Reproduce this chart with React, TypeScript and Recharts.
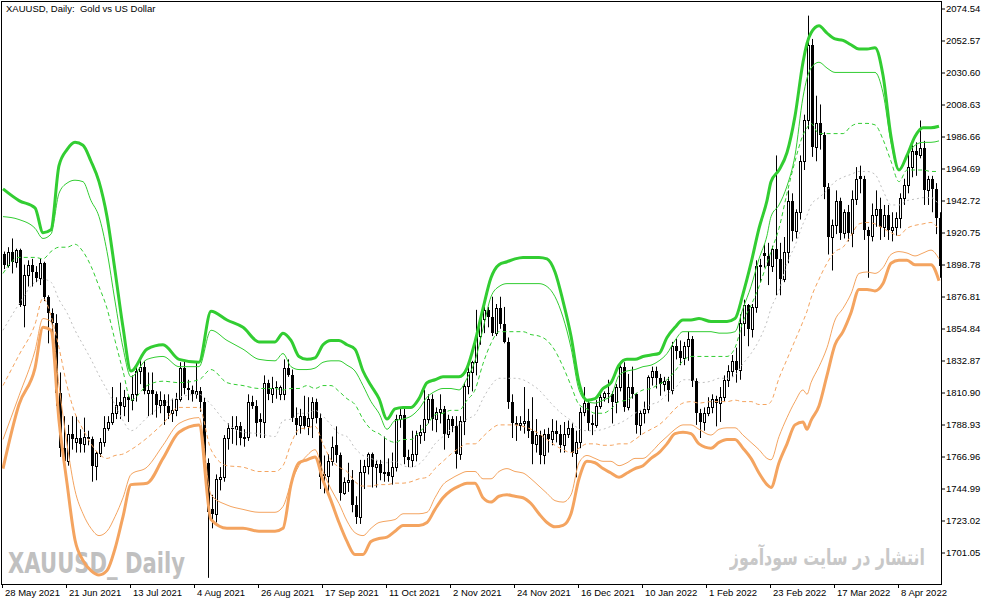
import React from 'react';
import { ComposedChart, Bar, Line, XAxis, YAxis } from 'recharts';

// XAUUSD daily, 28 May 2021 .. 25 Apr 2022 (one entry per trading day)
const xTickBars = [0, 16, 32, 48, 64, 80, 96, 112, 128, 144, 160, 176, 192, 208, 224];
const xTickLabels = [
  '28 May 2021', '21 Jun 2021', '13 Jul 2021', '4 Aug 2021', '26 Aug 2021', '17 Sep 2021',
  '11 Oct 2021', '2 Nov 2021', '24 Nov 2021', '16 Dec 2021', '10 Jan 2022', '1 Feb 2022',
  '23 Feb 2022', '17 Mar 2022', '8 Apr 2022',
];
const yTicks = [
  2074.54, 2052.57, 2030.6, 2008.63, 1986.66, 1964.69, 1942.72, 1920.75, 1898.78,
  1876.81, 1854.84, 1832.87, 1810.9, 1788.93, 1766.96, 1744.99, 1723.02, 1701.05,
];

const opens = [
  1906, 1899, 1908, 1901, 1909, 1871, 1892, 1899, 1894, 1890,
  1900, 1877, 1866, 1859, 1811, 1773, 1764, 1783, 1777, 1780,
  1776, 1781, 1779, 1761, 1770, 1777, 1787, 1791, 1797, 1805,
  1802, 1808, 1806, 1810, 1826, 1829, 1811, 1813, 1810, 1803,
  1806, 1802, 1797, 1799, 1807, 1828, 1814, 1813, 1810, 1812,
  1805, 1763, 1731, 1728, 1752, 1753, 1780, 1787, 1786, 1788,
  1780, 1781, 1805, 1802, 1793, 1791, 1818, 1810, 1815, 1810,
  1810, 1828, 1823, 1794, 1789, 1795, 1788, 1794, 1805, 1794,
  1755, 1754, 1764, 1775, 1768, 1742, 1750, 1751, 1734, 1726,
  1757, 1761, 1769, 1760, 1762, 1756, 1757, 1754, 1760, 1793,
  1796, 1767, 1765, 1769, 1782, 1784, 1793, 1807, 1793, 1798,
  1800, 1783, 1793, 1788, 1769, 1792, 1816, 1825, 1832, 1850,
  1862, 1868, 1863, 1852, 1869, 1858, 1846, 1805, 1790, 1789,
  1790, 1792, 1785, 1776, 1782, 1768, 1783, 1779, 1785, 1783,
  1775, 1783, 1787, 1770, 1777, 1798, 1804, 1790, 1789, 1802,
  1808, 1811, 1810, 1805, 1815, 1829, 1801, 1815, 1810, 1789,
  1797, 1800, 1822, 1826, 1821, 1817, 1819, 1813, 1843, 1840,
  1835, 1843, 1848, 1819, 1797, 1791, 1797, 1801, 1807, 1804,
  1808, 1820, 1826, 1833, 1827, 1859, 1871, 1855, 1870, 1898,
  1907, 1905, 1898, 1910, 1903, 1889, 1908, 1943, 1922, 1935,
  1970, 1998, 2050, 1980, 1996, 1988, 1952, 1918, 1926, 1943,
  1921, 1935, 1921, 1944, 1960, 1958, 1923, 1919, 1933, 1937,
  1925, 1933, 1923, 1925, 1931, 1945, 1954, 1966, 1977, 1974,
  1979, 1950, 1958, 1951, 1931,
];
const highs = [
  1908, 1911, 1917, 1910, 1910, 1899, 1902, 1903, 1898, 1903,
  1901, 1878, 1869, 1865, 1825, 1795, 1789, 1795, 1795, 1786,
  1794, 1785, 1781, 1771, 1780, 1795, 1795, 1815, 1808, 1818,
  1813, 1809, 1823, 1830, 1834, 1833, 1825, 1825, 1812, 1812,
  1810, 1810, 1807, 1811, 1832, 1833, 1820, 1816, 1832, 1815,
  1808, 1766, 1741, 1755, 1760, 1782, 1790, 1795, 1795, 1791,
  1786, 1810, 1809, 1806, 1797, 1823, 1820, 1822, 1819, 1816,
  1834, 1834, 1827, 1801, 1800, 1809, 1808, 1808, 1807, 1797,
  1768, 1769, 1781, 1788, 1770, 1753, 1763, 1758, 1740, 1765,
  1765, 1770, 1770, 1765, 1765, 1781, 1766, 1770, 1796, 1800,
  1801, 1772, 1785, 1785, 1789, 1813, 1810, 1810, 1801, 1810,
  1802, 1796, 1795, 1795, 1795, 1818, 1830, 1833, 1868, 1865,
  1870, 1870, 1877, 1872, 1877, 1870, 1849, 1810, 1795, 1795,
  1815, 1800, 1808, 1793, 1785, 1786, 1787, 1793, 1792, 1789,
  1791, 1792, 1790, 1785, 1801, 1815, 1806, 1796, 1806, 1812,
  1812, 1820, 1812, 1817, 1830, 1832, 1824, 1829, 1811, 1799,
  1805, 1823, 1829, 1829, 1824, 1822, 1822, 1846, 1848, 1847,
  1846, 1853, 1850, 1821, 1800, 1801, 1808, 1810, 1809, 1815,
  1823, 1830, 1837, 1842, 1865, 1875, 1872, 1872, 1902, 1903,
  1913, 1914, 1912, 1974, 1914, 1918, 1950, 1948, 1937, 1974,
  2002, 2070, 2054, 2015, 2009, 1990, 1955, 1930, 1950, 1945,
  1937, 1940, 1950, 1966, 1967, 1960, 1925, 1941, 1950, 1945,
  1940, 1940, 1935, 1935, 1948, 1958, 1978, 1981, 1983, 1998,
  1984, 1960, 1960, 1955, 1935,
];
const lows = [
  1896, 1897, 1893, 1897, 1870, 1856, 1884, 1884, 1887, 1885,
  1874, 1845, 1850, 1802, 1767, 1761, 1761, 1772, 1770, 1770,
  1770, 1775, 1750, 1751, 1767, 1774, 1785, 1789, 1793, 1793,
  1795, 1791, 1799, 1805, 1817, 1810, 1795, 1796, 1794, 1797,
  1789, 1793, 1791, 1795, 1805, 1810, 1806, 1805, 1807, 1798,
  1760, 1684, 1718, 1722, 1744, 1750, 1772, 1776, 1775, 1775,
  1774, 1778, 1800, 1781, 1780, 1780, 1806, 1804, 1807, 1806,
  1806, 1822, 1791, 1782, 1783, 1786, 1782, 1780, 1790, 1745,
  1742, 1742, 1761, 1763, 1737, 1741, 1743, 1729, 1721, 1721,
  1745, 1755, 1746, 1746, 1751, 1750, 1750, 1748, 1757, 1787,
  1762, 1760, 1760, 1764, 1776, 1778, 1790, 1785, 1784, 1790,
  1772, 1780, 1784, 1759, 1765, 1782, 1810, 1812, 1823, 1844,
  1852, 1856, 1850, 1850, 1855, 1845, 1800, 1780, 1778, 1785,
  1783, 1780, 1762, 1770, 1762, 1762, 1770, 1775, 1777, 1770,
  1770, 1780, 1767, 1753, 1773, 1795, 1785, 1782, 1787, 1800,
  1805, 1804, 1790, 1797, 1812, 1798, 1799, 1807, 1783, 1782,
  1790, 1797, 1816, 1814, 1809, 1812, 1805, 1810, 1834, 1830,
  1830, 1833, 1815, 1789, 1780, 1785, 1795, 1797, 1788, 1791,
  1805, 1815, 1822, 1818, 1820, 1850, 1843, 1849, 1866, 1887,
  1897, 1885, 1894, 1878, 1878, 1887, 1900, 1915, 1917, 1930,
  1964, 1992, 1973, 1970, 1978, 1944, 1906, 1895, 1920, 1916,
  1917, 1915, 1911, 1940, 1948, 1916, 1890, 1915, 1925, 1916,
  1918, 1916, 1915, 1919, 1924, 1940, 1948, 1959, 1960, 1972,
  1940, 1940, 1935, 1920, 1890,
];
const closes = [
  1899, 1908, 1901, 1909, 1871, 1892, 1899, 1894, 1890, 1900,
  1877, 1866, 1859, 1811, 1773, 1764, 1783, 1779, 1780, 1776,
  1781, 1779, 1761, 1770, 1777, 1787, 1791, 1797, 1803, 1802,
  1808, 1806, 1810, 1826, 1829, 1812, 1813, 1810, 1803, 1806,
  1802, 1797, 1799, 1807, 1828, 1814, 1813, 1810, 1812, 1805,
  1763, 1729, 1728, 1752, 1753, 1780, 1787, 1786, 1788, 1780,
  1781, 1805, 1802, 1790, 1791, 1818, 1810, 1814, 1814, 1815,
  1828, 1823, 1794, 1789, 1795, 1788, 1794, 1805, 1794, 1753,
  1754, 1764, 1774, 1768, 1742, 1750, 1751, 1734, 1726, 1757,
  1761, 1769, 1760, 1762, 1756, 1757, 1754, 1760, 1793, 1796,
  1767, 1765, 1769, 1782, 1784, 1793, 1807, 1793, 1798, 1800,
  1783, 1793, 1788, 1769, 1792, 1816, 1825, 1832, 1850, 1862,
  1868, 1863, 1852, 1869, 1858, 1846, 1805, 1790, 1789, 1790,
  1792, 1785, 1776, 1782, 1768, 1783, 1779, 1785, 1783, 1775,
  1783, 1787, 1770, 1777, 1798, 1804, 1790, 1789, 1802, 1808,
  1811, 1810, 1805, 1815, 1829, 1801, 1815, 1810, 1789, 1797,
  1800, 1822, 1826, 1821, 1817, 1819, 1813, 1843, 1840, 1835,
  1843, 1848, 1819, 1797, 1791, 1797, 1801, 1807, 1804, 1808,
  1820, 1826, 1833, 1827, 1859, 1871, 1855, 1870, 1898, 1899,
  1905, 1898, 1910, 1903, 1889, 1908, 1943, 1922, 1935, 1970,
  1998, 2050, 1980, 1996, 1988, 1952, 1918, 1926, 1943, 1921,
  1935, 1921, 1944, 1958, 1958, 1923, 1919, 1933, 1937, 1925,
  1933, 1923, 1925, 1931, 1945, 1954, 1966, 1977, 1974, 1979,
  1950, 1958, 1951, 1931, 1898,
];

// envelope readings, taken at these bars only
const bandBars = [
  0, 4, 8, 10, 12, 14, 16, 18, 20, 22,
  24, 26, 28, 30, 32, 36, 40, 44, 49, 52,
  56, 60, 64, 68, 70, 72, 74, 76, 78, 80,
  82, 84, 86, 88, 90, 92, 94, 96, 98, 100,
  102, 104, 106, 108, 110, 112, 114, 116, 118, 120,
  122, 124, 126, 128, 130, 132, 134, 136, 138, 140,
  142, 144, 146, 148, 150, 152, 154, 156, 158, 160,
  162, 164, 166, 168, 170, 172, 174, 177, 179, 181,
  183, 185, 187, 189, 191, 192, 194, 196, 198, 200,
  201, 202, 204, 206, 208, 210, 212, 214, 216, 218,
  220, 222, 224, 226, 228, 230, 232, 234,
];
const upper3 = [
  1951, 1943, 1938, 1921, 1923, 1967, 1978, 1983, 1981, 1970,
  1956, 1932, 1895, 1856, 1826, 1841, 1844, 1834, 1832, 1867,
  1861, 1856, 1846, 1846, 1852, 1847, 1836, 1834, 1835, 1844,
  1847, 1847, 1844, 1841, 1826, 1816, 1807, 1793, 1800, 1801,
  1801, 1807, 1818, 1820, 1822, 1822, 1822, 1828, 1846, 1869,
  1890, 1899, 1901, 1903, 1904, 1904, 1904, 1903, 1894, 1874,
  1850, 1818, 1806, 1807, 1814, 1818, 1830, 1834, 1834, 1836,
  1837, 1838, 1849, 1856, 1861, 1861, 1862, 1860, 1860, 1860,
  1862, 1879, 1900, 1924, 1943, 1956, 1964, 1976, 2001, 2038,
  2051, 2058, 2063, 2058, 2054, 2053, 2050, 2047, 2047, 2048,
  2029, 1987, 1964, 1974, 1987, 1993, 1993, 1994,
];
const upper2 = [
  1932, 1930, 1924, 1917, 1920, 1948, 1955, 1957, 1956, 1943,
  1932, 1908, 1874, 1842, 1822, 1834, 1836, 1829, 1829, 1854,
  1847, 1841, 1834, 1833, 1838, 1829, 1827, 1827, 1828, 1832,
  1833, 1833, 1830, 1826, 1816, 1805, 1797, 1786, 1792, 1793,
  1795, 1800, 1808, 1812, 1814, 1814, 1813, 1821, 1833, 1855,
  1877, 1884, 1886, 1886, 1886, 1886, 1886, 1884, 1877, 1863,
  1842, 1813, 1805, 1804, 1806, 1809, 1823, 1826, 1827, 1829,
  1830, 1833, 1838, 1847, 1853, 1853, 1853, 1853, 1852, 1852,
  1853, 1869, 1884, 1903, 1919, 1932, 1940, 1953, 1974, 2014,
  2027, 2034, 2038, 2034, 2031, 2031, 2031, 2031, 2031, 2031,
  2017, 1983, 1964, 1974, 1981, 1983, 1983, 1984,
];
const upper1 = [
  1893, 1904, 1904, 1903, 1908, 1911, 1911, 1913, 1908, 1898,
  1884, 1869, 1847, 1826, 1806, 1816, 1819, 1818, 1820, 1827,
  1818, 1816, 1814, 1814, 1813, 1814, 1814, 1816, 1814, 1816,
  1816, 1812, 1807, 1803, 1793, 1786, 1783, 1779, 1777, 1779,
  1779, 1784, 1789, 1796, 1797, 1799, 1799, 1806, 1813, 1831,
  1845, 1853, 1853, 1853, 1853, 1851, 1850, 1847, 1840, 1829,
  1816, 1803, 1800, 1797, 1797, 1800, 1805, 1806, 1810, 1813,
  1814, 1817, 1820, 1826, 1833, 1836, 1836, 1836, 1836, 1836,
  1842, 1860, 1871, 1884, 1900, 1908, 1924, 1948, 1970, 1988,
  1993, 1996, 1989, 1989, 1989, 1989, 1994, 1996, 1996, 1995,
  1985, 1970, 1956, 1964, 1964, 1964, 1963, 1963,
];
const middle = [
  1854, 1872, 1887, 1889, 1887, 1875, 1866, 1854, 1844, 1834,
  1823, 1813, 1803, 1792, 1785, 1794, 1803, 1808, 1810, 1803,
  1790, 1784, 1783, 1781, 1792, 1793, 1797, 1797, 1799, 1795,
  1789, 1783, 1781, 1773, 1768, 1766, 1764, 1763, 1764, 1761,
  1760, 1762, 1768, 1776, 1781, 1786, 1789, 1793, 1796, 1807,
  1816, 1821, 1821, 1821, 1820, 1817, 1813, 1807, 1801, 1796,
  1792, 1786, 1785, 1785, 1786, 1788, 1790, 1793, 1797, 1800,
  1803, 1805, 1810, 1814, 1820, 1820, 1818, 1819, 1821, 1821,
  1823, 1831, 1838, 1847, 1860, 1869, 1881, 1900, 1912, 1927,
  1933, 1940, 1945, 1950, 1956, 1959, 1961, 1963, 1963, 1961,
  1950, 1940, 1940, 1943, 1944, 1945, 1945, 1940,
];
const lower1 = [
  1816, 1837, 1858, 1876, 1864, 1842, 1816, 1797, 1786, 1776,
  1769, 1766, 1768, 1769, 1772, 1780, 1790, 1801, 1801, 1772,
  1761, 1760, 1757, 1757, 1761, 1776, 1786, 1787, 1788, 1776,
  1765, 1760, 1757, 1750, 1747, 1747, 1748, 1748, 1749, 1749,
  1750, 1752, 1753, 1759, 1764, 1769, 1773, 1776, 1776, 1781,
  1786, 1789, 1789, 1789, 1788, 1786, 1783, 1779, 1775, 1772,
  1770, 1773, 1776, 1776, 1775, 1775, 1776, 1776, 1779, 1783,
  1786, 1789, 1794, 1800, 1804, 1805, 1804, 1805, 1805, 1805,
  1806, 1805, 1805, 1803, 1803, 1805, 1821, 1834, 1847, 1860,
  1867, 1876, 1889, 1900, 1908, 1911, 1919, 1927, 1928, 1927,
  1924, 1921, 1919, 1924, 1926, 1927, 1928, 1923,
];
const lower2 = [
  1779, 1809, 1840, 1862, 1860, 1816, 1776, 1744, 1728, 1718,
  1713, 1716, 1726, 1739, 1755, 1760, 1775, 1790, 1794, 1741,
  1734, 1731, 1729, 1729, 1733, 1749, 1761, 1768, 1772, 1757,
  1745, 1735, 1723, 1715, 1713, 1718, 1722, 1723, 1724, 1728,
  1728, 1728, 1729, 1739, 1748, 1752, 1755, 1757, 1757, 1752,
  1752, 1757, 1759, 1757, 1756, 1752, 1747, 1742, 1737, 1736,
  1741, 1763, 1768, 1766, 1764, 1764, 1761, 1763, 1766, 1766,
  1770, 1776, 1781, 1786, 1789, 1789, 1786, 1782, 1786, 1787,
  1787, 1782, 1777, 1772, 1766, 1765, 1781, 1794, 1805, 1813,
  1810, 1818, 1829, 1842, 1861, 1869, 1879, 1893, 1894, 1893,
  1897, 1906, 1908, 1907, 1905, 1907, 1909, 1903,
];
const lower3 = [
  1759, 1803, 1828, 1856, 1854, 1792, 1749, 1710, 1696, 1689,
  1686, 1689, 1704, 1726, 1748, 1749, 1766, 1784, 1789, 1724,
  1718, 1718, 1716, 1716, 1718, 1748, 1763, 1765, 1767, 1751,
  1737, 1722, 1709, 1700, 1700, 1709, 1711, 1712, 1716, 1720,
  1720, 1720, 1722, 1731, 1739, 1744, 1747, 1749, 1749, 1739,
  1736, 1740, 1741, 1740, 1739, 1735, 1728, 1722, 1719, 1720,
  1728, 1752, 1764, 1763, 1759, 1756, 1753, 1756, 1759, 1761,
  1766, 1770, 1776, 1783, 1784, 1783, 1776, 1773, 1777, 1779,
  1779, 1773, 1766, 1756, 1748, 1746, 1763, 1776, 1789, 1791,
  1786, 1792, 1802, 1823, 1844, 1853, 1866, 1882, 1882, 1881,
  1886, 1900, 1902, 1902, 1899, 1899, 1899, 1888,
];

const rows: any[] = closes.map((c, i) => ({ i, o: opens[i], h: highs[i], l: lows[i], c }));
bandBars.forEach((b, k) => {
  Object.assign(rows[b], {
    u3: upper3[k], u2: upper2[k], u1: upper1[k], m: middle[k],
    d1: lower1[k], d2: lower2[k], d3: lower3[k],
  });
});

const FONT = "'Liberation Sans', Arial, sans-serif";
const GREEN = '#32cd32';
const ORANGE = '#f4a460';

const Candle = (props: any) => {
  const { x, y, width, height, payload } = props;
  if (!payload || height == null) return null;
  const { o, h, l, c } = payload;
  const top = Math.min(y, y + height);
  const span = Math.abs(height);
  const k = h === l ? 0 : span / (h - l);
  const yO = top + (h - o) * k;
  const yC = top + (h - c) * k;
  const p = Math.round(x + width / 2);
  const bTop = Math.round(Math.min(yO, yC));
  const bBot = Math.round(Math.max(yO, yC));
  return (
    <g>
      <line x1={p + 0.5} x2={p + 0.5} y1={top} y2={top + span} stroke="#000" strokeWidth={1} />
      {c >= o ? (
        <rect x={p - 0.5} y={bTop + 0.5} width={2} height={Math.max(bBot - bTop, 0)}
          fill="#fff" stroke="#000" strokeWidth={1} />
      ) : (
        <rect x={p - 1} y={bTop} width={3} height={Math.max(bBot - bTop, 1)} fill="#000" />
      )}
    </g>
  );
};

const XTick = (props: any) => {
  const { x, y, payload } = props;
  const idx = xTickBars.indexOf(payload.value);
  return (
    <g>
      <line x1={x - 0.5} x2={x - 0.5} y1={y - 4} y2={y} stroke="#000" />
      <text x={x + 2} y={y + 8} fontSize={9.5} fontFamily={FONT} fill="#000">
        {xTickLabels[idx]}
      </text>
    </g>
  );
};

export default function App() {
  return (
    <div style={{ position: 'absolute', left: 0, top: 0, width: 994, height: 605, background: '#fff', overflow: 'hidden' }}>
      <svg width={994} height={605} style={{ position: 'absolute', left: 0, top: 0 }}>
        <text x={8} y={573} fontFamily="'DejaVu Sans', sans-serif" fontWeight="bold" fontSize={29}
          textLength={177} lengthAdjust="spacingAndGlyphs" fill="#c0c0c0">XAUUSD_ Daily</text>
      </svg>
      <div dir="rtl" style={{
        position: 'absolute', right: 69, top: 545, fontFamily: "'DejaVu Sans', sans-serif",
        fontSize: 22, fontWeight: 'bold', color: '#c8c8c8', whiteSpace: 'nowrap',
        transform: 'scaleX(0.72)', transformOrigin: 'right center',
      }}>انتشار در سایت سودآموز</div>
      <div style={{ position: 'absolute', left: 0, top: 0 }}>
        <ComposedChart width={994} height={605} data={rows}
          margin={{ top: 2, right: 0, bottom: 0, left: 1 }}>
          <XAxis dataKey="i" type="category" ticks={xTickBars} interval={0} height={21}
            axisLine={false} tickLine={false} tickSize={4} tickMargin={0} tick={<XTick />} />
          <YAxis orientation="right" width={53} domain={[1679.77, 2079.35]} allowDataOverflow
            ticks={yTicks} interval={0} axisLine={false} tickSize={4} tickMargin={1}
            tickLine={{ stroke: '#000' }}
            tick={{ fill: '#000', fontSize: 9.5, fontFamily: FONT }}
            tickFormatter={(v: number) => v.toFixed(2)} />
          <Bar dataKey={(d: any) => [d.l, d.h]} barSize={3} shape={(p: any) => <Candle {...p} />}
            isAnimationActive={false} />
          <Line dataKey="m" stroke="#c0c0c0" strokeDasharray="2 3" strokeWidth={1} dot={false}
            connectNulls type="monotone" isAnimationActive={false} />
          <Line dataKey="u1" stroke={GREEN} strokeDasharray="4 3" strokeWidth={1} dot={false}
            connectNulls type="monotone" isAnimationActive={false} />
          <Line dataKey="d1" stroke={ORANGE} strokeDasharray="4 3" strokeWidth={1} dot={false}
            connectNulls type="monotone" isAnimationActive={false} />
          <Line dataKey="u2" stroke={GREEN} strokeWidth={1} dot={false}
            connectNulls type="monotone" isAnimationActive={false} />
          <Line dataKey="d2" stroke={ORANGE} strokeWidth={1} dot={false}
            connectNulls type="monotone" isAnimationActive={false} />
          <Line dataKey="u3" stroke={GREEN} strokeWidth={3} dot={false}
            connectNulls type="monotone" isAnimationActive={false} />
          <Line dataKey="d3" stroke={ORANGE} strokeWidth={3} dot={false}
            connectNulls type="monotone" isAnimationActive={false} />
        </ComposedChart>
      </div>
      <svg width={994} height={605} style={{ position: 'absolute', left: 0, top: 0, pointerEvents: 'none' }}>
        <rect x={1.5} y={1.5} width={940} height={583} fill="none" stroke="#000" strokeWidth={1} />
      </svg>
      <div style={{
        position: 'absolute', left: 6, top: 3, fontFamily: FONT, fontSize: 9.5,
        lineHeight: '12px', whiteSpace: 'pre', color: '#000',
      }}>XAUUSD, Daily:  Gold vs US Dollar</div>
    </div>
  );
}
